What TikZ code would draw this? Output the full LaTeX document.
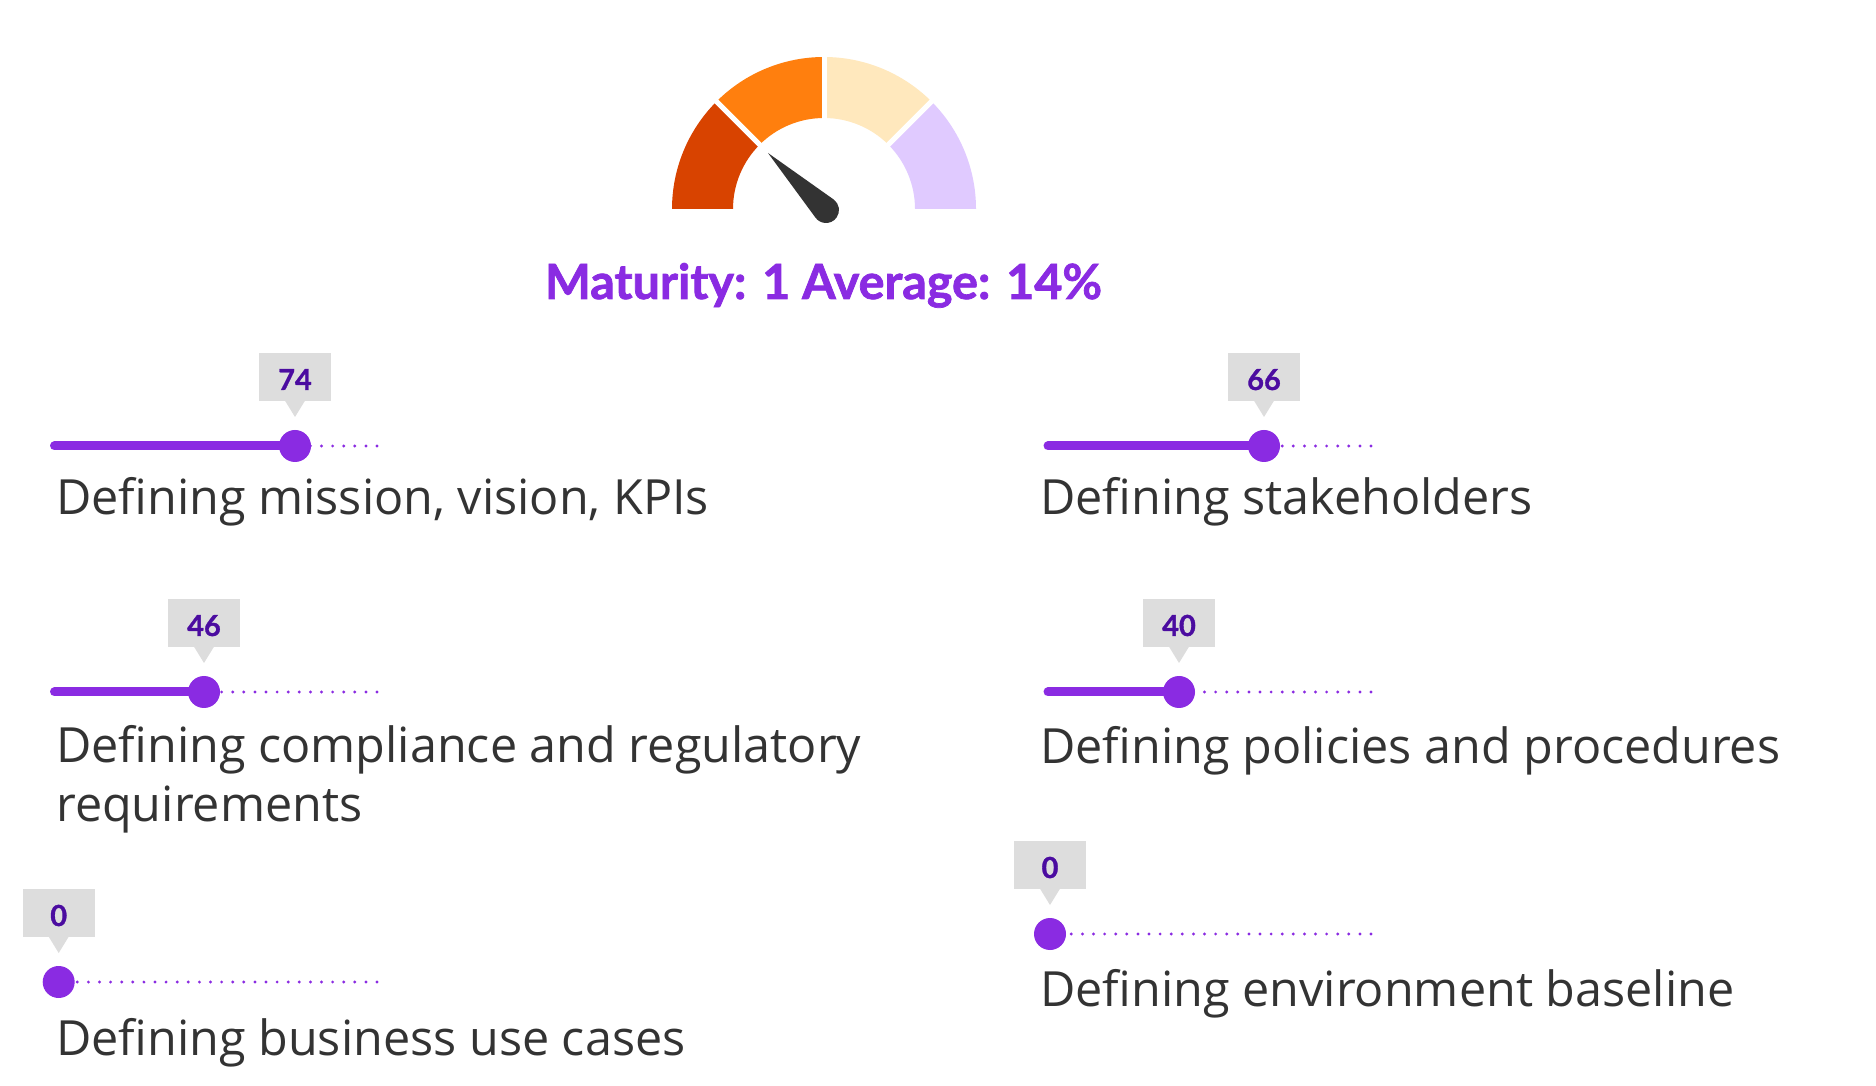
\documentclass[tikz,border=0pt]{standalone}
\usepackage{fontspec}
\setmainfont{Open Sans}
\newfontfamily\ttlfont{Lato}
\usetikzlibrary{calc}
\definecolor{vio}{HTML}{8A2BE2}
\definecolor{numc}{HTML}{4B0CA0}
\definecolor{txt}{HTML}{333333}
\definecolor{boxg}{HTML}{DDDDDD}
\definecolor{gA}{HTML}{D84300}
\definecolor{gB}{HTML}{FF7F0E}
\definecolor{gC}{HTML}{FFE8BD}
\definecolor{gD}{HTML}{E0CAFF}
\definecolor{ndl}{HTML}{333333}
\tikzset{
 knob/.style={circle, fill=vio, minimum size=32pt, inner sep=0pt},
 trackline/.style={vio, line width=9pt, line cap=round},
 dotline/.style={vio, line width=3.2pt, line cap=round, dash pattern=on 0pt off 11.1pt},
 tipbox/.style={fill=boxg, minimum width=72pt, minimum height=48pt, inner sep=0pt},
 numlbl/.style={font=\ttlfont\bfseries\fontsize{29}{34}\selectfont\addfontfeature{FakeBold=1}, text=numc, anchor=base, inner sep=0pt},
 lbl/.style={font=\fontsize{48.5}{58}\selectfont, text=txt, anchor=base west, inner sep=0pt},
 ttl/.style={font=\ttlfont\bfseries\fontsize{48.5}{58}\selectfont\addfontfeature{FakeBold=1.5}, text=vio, anchor=base, inner sep=0pt},
 gapline/.style={white, line width=5pt},
}
\newcommand\mkslider[6]{%
  \coordinate (#1s) at (#2,#5);
  \coordinate (#1e) at (#3,#5);
  \coordinate (#1k) at (#4,#5);
  \draw[dotline] (#1e) -- (#1k);
  \draw[trackline] (#1s) -- (#1k);
  \node[knob] (#1knob) at (#1k) {};
  \node[tipbox] (#1box) at ($(#1k)+(0,69)$) {};
  \fill[boxg] ($(#1box.south)+(-10,0.5)$) -- ($(#1box.south)+(10,0.5)$) -- ($(#1k)+(0,29)$) -- cycle;
  \node[numlbl] (#1num) at ($(#1k)+(0,56)$) {#6};
}
\begin{document}
\begin{tikzpicture}[x=1pt,y=1pt]
\useasboundingbox (0,0) rectangle (1876,1085);
\fill[white] (0,0) rectangle (1876,1085);
% gauge
\begin{scope}[shift={(824,876)}]
  \fill[gA] (180:152pt) arc[start angle=180,end angle=135,radius=152pt] -- (135:91pt) arc[start angle=135,end angle=180,radius=91pt] -- cycle;
  \fill[gB] (135:152pt) arc[start angle=135,end angle=90,radius=152pt] -- (90:91pt) arc[start angle=90,end angle=135,radius=91pt] -- cycle;
  \fill[gC] (90:152pt) arc[start angle=90,end angle=45,radius=152pt] -- (45:91pt) arc[start angle=45,end angle=90,radius=91pt] -- cycle;
  \fill[gD] (45:152pt) arc[start angle=45,end angle=0,radius=152pt] -- (0:91pt) arc[start angle=0,end angle=45,radius=91pt] -- cycle;
  \draw[gapline] (45:85pt) -- (45:160pt);
  \draw[gapline] (90:85pt) -- (90:160pt);
  \draw[gapline] (135:85pt) -- (135:160pt);
\end{scope}
\coordinate (piv) at (826,875);
\coordinate (tip) at (768,932);
\fill[ndl] ($(piv)+(54.7:13pt)$) arc[start angle=54.7,end angle=-143.7,radius=13pt] -- (tip) -- cycle;
\node[ttl] (title) at (823.5,786) {Maturity: 1 Average: 14\%};
% sliders
\mkslider{La}{54.5}{377}{295}{639}{74}
\mkslider{Lb}{54.5}{377}{204}{393}{46}
\mkslider{Lc}{54.5}{377}{58.7}{103}{0}
\mkslider{Ra}{1048}{1371}{1264}{639}{66}
\mkslider{Rb}{1048}{1371}{1179}{393}{40}
\mkslider{Rc}{1048}{1371}{1050}{151}{0}
% labels
\node[lbl] (La-t) at (56,570) {Defining mission, vision, KPIs};
\node[lbl] (Lb-t) at (56,323) {Defining compliance and regulatory};
\node[lbl] (Lb-t2) at (56,264) {requirements};
\node[lbl] (Lc-t) at (56,30) {Defining business use cases};
\node[lbl] (Ra-t) at (1040,570) {Defining stakeholders};
\node[lbl] (Rb-t) at (1040,322) {Defining policies and procedures};
\node[lbl] (Rc-t) at (1040,79) {Defining environment baseline};
\end{tikzpicture}
\end{document}
